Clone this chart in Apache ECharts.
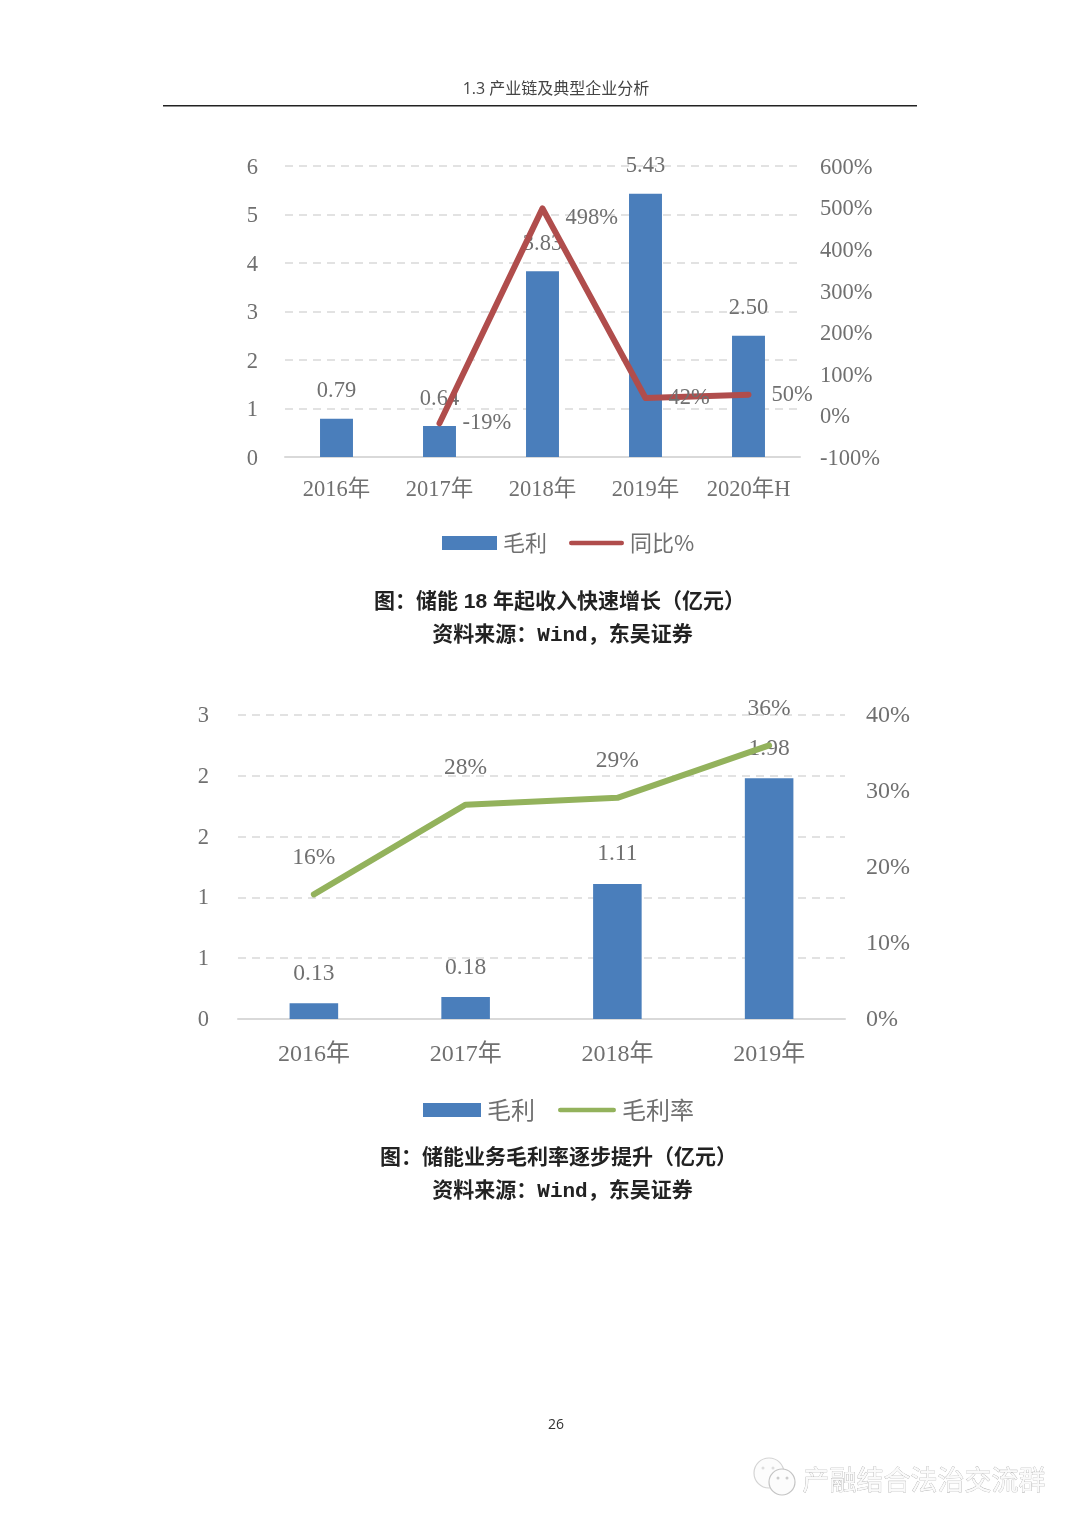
<!DOCTYPE html>
<html><head><meta charset="utf-8">
<style>html,body{margin:0;padding:0;background:#fff}#c{width:1080px;height:1527px}</style>
<script src="https://cdn.jsdelivr.net/npm/echarts@6/dist/echarts.min.js"></script>
</head><body><div id="c"></div>
<script>
const years1 = ['2016年','2017年','2018年','2019年','2020年H'];
const profit1 = [0.79,0.64,3.83,5.43,2.50];
const yoy1 = [null,-19,498,42,50];
const years2 = ['2016年','2017年','2018年','2019年'];
const profit2 = [0.13,0.18,1.11,1.98];
const margin2 = [16.4,28.2,29.1,36];
const caption1 = '图：储能 18 年起收入快速增长（亿元）';
const caption2 = '图：储能业务毛利率逐步提升（亿元）';
const source = '资料来源：Wind，东吴证券';
const header = '1.3 产业链及典型企业分析';
const pageNo = '26';
const watermark = '产融结合法治交流群';

const serif = '"Liberation Serif","Noto Sans CJK SC",serif';
const mono = '"Liberation Mono","Noto Sans CJK SC",monospace';
const sans = '"Liberation Sans","Noto Sans CJK SC",sans-serif';
const grey = '#707070', gridC = '#d9d9d9', blue = '#4a7ebb', red = '#b04d4c', green = '#93b25c';
const lineIcon = 'path://M50,0 L50.01,0 L50.01,0.01Z M50,14 L50.01,14 L50.01,13.99Z M4,3 L96,3 A4,4 0 0 1 96,11 L4,11 A4,4 0 0 1 4,3Z';

function xAxis(i, data, size, margin){
  return {type:'category',gridIndex:i,data,boundaryGap:true,
    axisLine:{lineStyle:{color:gridC,width:2}},axisTick:{show:false},
    axisLabel:{interval:0,color:grey,fontFamily:serif,fontSize:size,margin}};
}
function tickRich(size,pad){
  return {a:{color:grey,fontFamily:serif,fontSize:size,padding:[pad,0,0,0]}};
}
function leftAxis(i,max,interval,size,margin,pad){
  return {type:'value',gridIndex:i,min:0,max,interval,
    axisLine:{show:false},axisTick:{show:false},
    splitLine:{lineStyle:{color:gridC,type:[8,6],width:1.5}},
    axisLabel:{margin,rich:tickRich(size,pad),formatter:v=>'{a|'+Math.round(v)+'}'}};
}
function rightAxis(i,min,max,interval,size,margin,pad){
  return {type:'value',gridIndex:i,position:'right',min,max,interval,
    axisLine:{show:false},axisTick:{show:false},splitLine:{show:false},
    axisLabel:{margin,rich:tickRich(size,pad),formatter:v=>'{a|'+v+'%}'}};
}
function barSeries(i,data,size,dist){
  return {type:'bar',name:'毛利',xAxisIndex:i,yAxisIndex:i*2,data,barWidth:'32%',
    itemStyle:{color:blue},
    label:{show:true,position:'top',distance:dist,color:grey,fontFamily:serif,fontSize:size,
      formatter:p=>p.value.toFixed(2)}};
}
function legend(left,top,name2,w,size,gap){
  return {left,top,itemWidth:w,itemHeight:14,itemGap:gap,
    data:[{name:'毛利',icon:'rect'},{name:name2,icon:lineIcon}],
    textStyle:{color:grey,fontFamily:'"Noto Sans CJK SC"',fontSize:size,padding:[0,0,0,1]},selectedMode:false};
}
function txt(x,y,text,font,color,extra){
  return {type:'text',x,y,silent:true,style:Object.assign({text,font,fill:color,align:'center',verticalAlign:'middle'},extra||{})};
}
const chart = echarts.init(document.getElementById('c'));
chart.setOption({
  animation:false,backgroundColor:'#fff',
  grid:[{left:285,top:166,width:515,height:291},{left:238,top:715,width:607,height:304}],
  xAxis:[xAxis(0,years1,22.5,22),xAxis(1,years2,24,24)],
  yAxis:[leftAxis(0,6,1,22.5,27,4),rightAxis(0,-100,600,100,22.5,20,4),
         leftAxis(1,2.5,0.5,22.5,29,2),rightAxis(1,0,40,10,24,21,2)],
  legend:[legend(437,527,'同比%',55,22,22),legend(418,1093,'毛利率',58,24,23)],
  series:[
    barSeries(0,profit1,22.5,16),
    {type:'line',name:'同比%',xAxisIndex:0,yAxisIndex:1,symbol:'circle',symbolSize:2,showSymbol:true,
     lineStyle:{color:red,width:6,cap:'round',join:'round'},itemStyle:{color:red},
     data:yoy1.map(v=>v===498?{value:v,label:{offset:[0,10]}}:v),
     label:{show:true,position:'right',distance:22,color:grey,fontFamily:serif,fontSize:22.5,
       formatter:p=>p.value+'%'}},
    barSeries(1,profit2,23.5,18),
    {type:'line',name:'毛利率',xAxisIndex:1,yAxisIndex:3,symbol:'circle',symbolSize:2,showSymbol:true,
     lineStyle:{color:green,width:6,cap:'round',join:'round'},itemStyle:{color:green},
     data:margin2,
     label:{show:true,position:'top',distance:24,color:grey,fontFamily:serif,fontSize:23.5,
       formatter:p=>Math.round(p.value)+'%'}}
  ],
  graphic:[
    txt(556,89,header,'16px "Open Sans","Noto Sans CJK SC"','#444'),
    {type:'rect',silent:true,shape:{x:163,y:105,width:754,height:1.5},style:{fill:'#222'}},
    txt(559.5,602,caption1,'bold 21px '+sans,'#222'),
    txt(562.5,635.5,source,'bold 21px '+mono,'#222'),
    txt(558.5,1158,caption2,'bold 21px '+sans,'#222'),
    txt(562.5,1191.5,source,'bold 21px '+mono,'#222'),
    txt(556,1425,pageNo,'14px "Open Sans"','#333'),
    {type:'circle',silent:true,shape:{cx:769,cy:1473,r:15},style:{fill:'#fcfcfc',stroke:'#d4d4d4',lineWidth:1.2}},
    {type:'circle',silent:true,shape:{cx:763,cy:1468,r:1.5},style:{fill:'#ddd'}},
    {type:'circle',silent:true,shape:{cx:773,cy:1468,r:1.5},style:{fill:'#ddd'}},
    {type:'circle',silent:true,shape:{cx:782,cy:1482,r:13},style:{fill:'#fcfcfc',stroke:'#c4c4c4',lineWidth:1.2}},
    {type:'circle',silent:true,shape:{cx:778,cy:1478,r:1.5},style:{fill:'#ccc'}},
    {type:'circle',silent:true,shape:{cx:787,cy:1478,r:1.5},style:{fill:'#ccc'}},
    txt(924,1480,watermark,'27px "Noto Sans CJK SC"','#fafafa',{stroke:'#aaaaaa',lineWidth:0.6})
  ]
});
</script></body></html>
